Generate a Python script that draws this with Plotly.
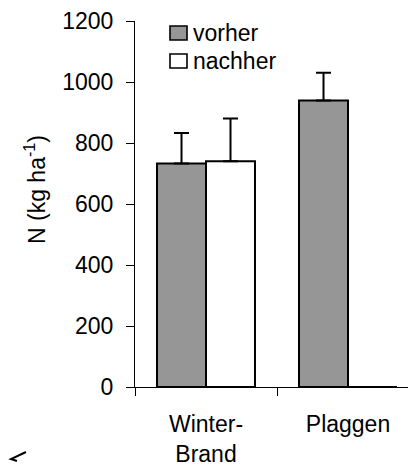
import plotly.graph_objects as go

# data
categories = ["Winter-<br>Brand", "Plaggen"]
vorher = [733, 939]
vorher_err = [100, 91]
nachher = [740, 0]
nachher_err = [140, 0]
y_ticks = [0, 200, 400, 600, 800, 1000, 1200]

FONT = "Liberation Sans, Arial, sans-serif"
FS = 23
GRAY = "#969696"

# plot area in pixels (figure is 408 x 469)
L, R, T, B = 135, 408, 21, 387


def px(x, y):
    # pixel -> paper coords
    return (x - L) / (R - L), (B - y) / (B - T)


x_idx = list(range(len(categories)))

fig = go.Figure()
fig.add_bar(
    x=x_idx, y=vorher, name="vorher",
    marker=dict(color=GRAY, line=dict(color="black", width=2)),
    error_y=dict(type="data", symmetric=False, array=vorher_err,
                 arrayminus=[0] * len(vorher), color="black",
                 thickness=2, width=7.5),
)
fig.add_bar(
    x=x_idx, y=nachher, name="nachher",
    marker=dict(color="white", line=dict(color="black", width=2)),
    error_y=dict(type="data", symmetric=False, array=nachher_err,
                 arrayminus=[0] * len(nachher), color="black",
                 thickness=2, width=7.5),
)

# hand-made legend (square swatches + text)
shapes = []
annotations = []
for i, (label, col) in enumerate([("vorher", GRAY), ("nachher", "white")]):
    cy = 33 + i * 28
    x0, y0 = px(170, cy + 7)
    x1, y1 = px(187, cy - 7)
    shapes.append(dict(type="rect", xref="paper", yref="paper",
                       x0=x0, y0=y0, x1=x1, y1=y1,
                       fillcolor=col, line=dict(color="black", width=1.6)))
    tx, ty = px(191, cy)
    annotations.append(dict(text=label, xref="paper", yref="paper",
                            x=tx, y=ty, xanchor="left", yanchor="middle",
                            showarrow=False, font=dict(size=FS, color="black")))

# y axis title
tx, ty = px(35, 190)
annotations.append(dict(text="N (kg ha<sup>-1</sup>)", xref="paper", yref="paper",
                        x=tx, y=ty, textangle=-90, showarrow=False,
                        xanchor="center", yanchor="middle",
                        font=dict(size=FS, color="black")))

# little stray stroke bottom-left
p = [px(26, 452), px(11, 459), px(17, 461)]
shapes.append(dict(type="path", xref="paper", yref="paper",
                   path="M %f,%f L %f,%f L %f,%f" % (p[0] + p[1] + p[2]),
                   line=dict(color="black", width=2)))

fig.update_layout(
    width=408, height=469,
    margin=dict(l=L, r=408 - R, t=T, b=469 - B),
    paper_bgcolor="white", plot_bgcolor="white",
    font=dict(family=FONT, size=FS, color="black"),
    barmode="group", bargap=0.31, bargroupgap=0,
    showlegend=False,
    shapes=shapes, annotations=annotations,
    xaxis=dict(
        range=[-0.5, -0.5 + (R - L) / 142],
        tickvals=x_idx, ticktext=categories, ticks="", ticklen=0,
        ticklabelstandoff=16,
        minor=dict(tickvals=[-0.5, 0.5, 1.5], ticks="outside", ticklen=8,
                   tickcolor="black", tickwidth=1.2),
        showline=True, linecolor="black", linewidth=1.2,
        showgrid=False, zeroline=False, fixedrange=True,
    ),
    yaxis=dict(
        range=[0, 1200], tickvals=y_ticks,
        ticks="outside", ticklen=8, tickcolor="black", tickwidth=1.2,
        ticklabelstandoff=8,
        showline=True, linecolor="black", linewidth=1.2,
        showgrid=False, zeroline=False, fixedrange=True,
    ),
)

# no page margin so the figure sits at the window's top-left corner
fig.write_html("out.html", config={"displayModeBar": False},
               post_script="document.body.style.margin='0';")
